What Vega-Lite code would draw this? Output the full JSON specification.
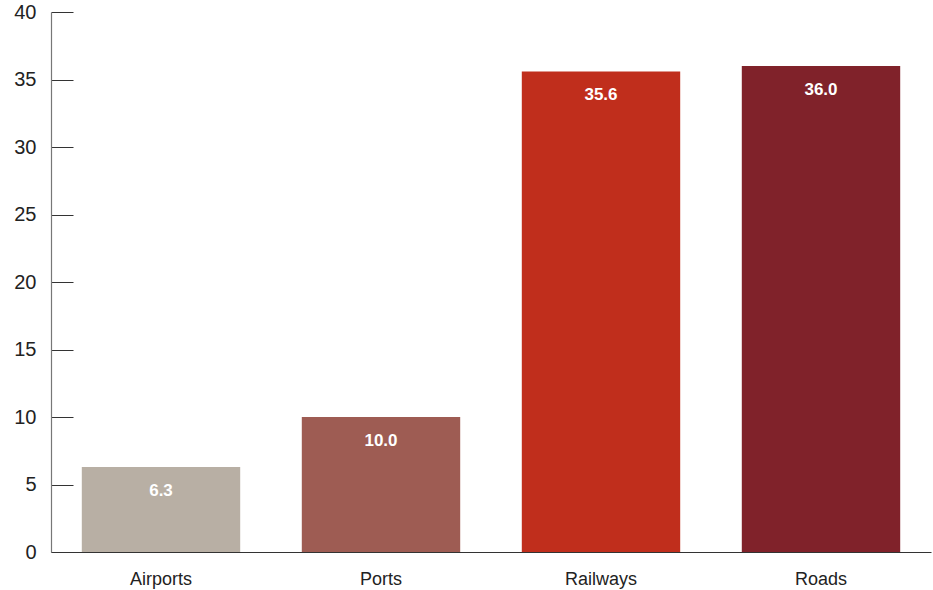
{
  "$schema": "https://vega.github.io/schema/vega-lite/v6.json",
  "width": 880,
  "height": 540,
  "autosize": "none",
  "padding": {"left": 51, "top": 12, "right": 2, "bottom": 38},
  "background": "white",
  "config": {
    "view": {"stroke": null},
    "font": "Liberation Sans"
  },
  "data": {
    "values": [
      {"mode": "Airports", "value": 6.3},
      {"mode": "Ports", "value": 10.0},
      {"mode": "Railways", "value": 35.6},
      {"mode": "Roads", "value": 36.0}
    ]
  },
  "encoding": {
    "x": {
      "field": "mode",
      "type": "nominal",
      "sort": null,
      "scale": {"paddingInner": 0.28, "paddingOuter": 0.14},
      "axis": {
        "title": null,
        "labelAngle": 0,
        "labelFontSize": 18,
        "labelColor": "#222",
        "labelPadding": 18,
        "ticks": false,
        "domainColor": "#333",
        "domainWidth": 1.2
      }
    },
    "y": {
      "field": "value",
      "type": "quantitative",
      "scale": {"domain": [0, 40]},
      "axis": {
        "title": null,
        "values": [0, 5, 10, 15, 20, 25, 30, 35, 40],
        "grid": false,
        "tickSize": -22,
        "tickColor": "#333",
        "domainColor": "#777",
        "domainWidth": 1.2,
        "labelFontSize": 20,
        "labelColor": "#222",
        "labelPadding": 37
      }
    }
  },
  "layer": [
    {
      "mark": {"type": "bar"},
      "encoding": {
        "color": {
          "field": "mode",
          "type": "nominal",
          "legend": null,
          "scale": {
            "domain": ["Airports", "Ports", "Railways", "Roads"],
            "range": ["#b8afa4", "#9e5c53", "#c02e1c", "#80222a"]
          }
        }
      }
    },
    {
      "mark": {
        "type": "text",
        "color": "white",
        "fontWeight": "bold",
        "fontSize": 17,
        "baseline": "middle",
        "dy": 24
      },
      "encoding": {
        "text": {"field": "value", "type": "quantitative", "format": ".1f"}
      }
    }
  ]
}
